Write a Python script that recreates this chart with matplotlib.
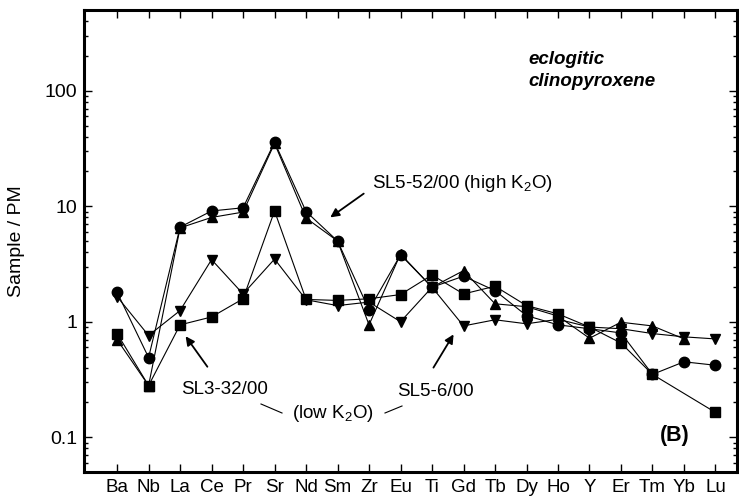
import numpy as np
import matplotlib
matplotlib.use('Agg')
import matplotlib.pyplot as plt
from matplotlib.ticker import LogLocator, NullFormatter

plt.rcParams['font.family'] = ['Liberation Sans', 'DejaVu Sans']
plt.rcParams['mathtext.fontset'] = 'custom'
plt.rcParams['mathtext.rm'] = 'Liberation Sans'

# elements (x axis)
elements = ['Ba', 'Nb', 'La', 'Ce', 'Pr', 'Sr', 'Nd', 'Sm', 'Zr', 'Eu', 'Ti',
            'Gd', 'Tb', 'Dy', 'Ho', 'Y', 'Er', 'Tm', 'Yb', 'Lu']

nan = np.nan
# SL5-52/00 (high K2O), two analyses
circle = [1.80, 0.49, 6.6, 9.1, 9.7, 35.9, 9.0, 5.0, 1.27, 3.8, 1.99,
          2.48, 1.86, 1.13, 0.94, 0.87, 0.80, 0.35, 0.45, 0.42]
up_tri = [0.70, 0.28, 6.5, 8.0, 8.9, 35.0, 7.9, 5.0, 0.94, 3.86, 1.99,
          2.77, 1.43, 1.35, 1.12, 0.72, 0.99, 0.92, 0.71, nan]
# SL5-6/00 (low K2O)
down_tri = [1.65, 0.76, 1.25, 3.45, 1.74, 3.49, 1.55, 1.38, 1.48, 1.0, 1.99,
            0.92, 1.04, 0.96, 1.05, 0.90, 0.87, 0.79, 0.74, 0.71]
# SL3-32/00 (low K2O)
square = [0.79, 0.28, 0.94, 1.10, 1.58, 9.1, 1.56, 1.53, 1.58, 1.72, 2.54,
          1.74, 2.03, 1.38, 1.17, 0.90, 0.655, 0.35, nan, 0.164]

fig = plt.figure(figsize=(7.39, 5.03), dpi=100)
ax = fig.add_axes([0.1137, 0.0616, 0.883, 0.9185])

x = np.arange(len(elements))
for vals, mk in [(square, 's'), (down_tri, 'v'), (up_tri, '^'), (circle, 'o')]:
    v = np.array(vals, dtype=float)
    ok = ~np.isnan(v)
    ax.plot(x[ok], v[ok], color='black', lw=0.8, marker=mk, markersize=7.5,
            markerfacecolor='black', markeredgecolor='black')

ax.set_yscale('log')
ax.set_ylim(0.05, 500)
ax.set_xlim(-1.05, 19.67)
ax.set_xticks(x)
ax.set_xticklabels(elements, fontsize=13.5)
ax.yaxis.set_minor_locator(LogLocator(base=10, subs=np.arange(2, 10), numticks=10))
ax.yaxis.set_minor_formatter(NullFormatter())
ax.set_yticks([0.1, 1, 10, 100])
ax.set_yticklabels(['0.1', '1', '10', '100'], fontsize=14)
ax.tick_params(which='both', direction='in', top=True, right=True, width=1)
ax.tick_params(which='major', length=6)
ax.tick_params(which='minor', length=3)
ax.tick_params(axis='x', pad=5)
ax.tick_params(axis='y', pad=5)
for s in ax.spines.values():
    s.set_linewidth(2.2)

ax.set_ylabel('Sample / PM', fontsize=14, labelpad=14)

# annotations in figure pixel coords
def px(xp, yp):
    return (xp / 739.0, 1 - yp / 503.0)

fig.text(*px(528, 60), 'eclogitic', fontsize=13.5, fontweight='bold',
         fontstyle='italic', va='center', ha='left')
fig.text(*px(528, 82), 'clinopyroxene', fontsize=13.5, fontweight='bold',
         fontstyle='italic', va='center', ha='left')
fig.text(*px(675, 436), '(B)', fontsize=15.5, fontweight='bold',
         ha='center', va='center')

fig.text(*px(372, 184), 'SL5-52/00 (high K$_2$O)', fontsize=13.5, va='center')
ax.annotate('', xy=px(328, 219), xycoords='figure fraction',
            xytext=px(366, 192), textcoords='figure fraction',
            arrowprops=dict(arrowstyle='-|>', color='black', lw=1.3,
                            mutation_scale=13))
fig.text(*px(181, 390), 'SL3-32/00', fontsize=13.5, va='center')
ax.annotate('', xy=px(184, 334), xycoords='figure fraction',
            xytext=px(209, 369), textcoords='figure fraction',
            arrowprops=dict(arrowstyle='-|>', color='black', lw=1.3,
                            mutation_scale=13))
fig.text(*px(397, 391), 'SL5-6/00', fontsize=13.5, va='center')
ax.annotate('', xy=px(455, 332), xycoords='figure fraction',
            xytext=px(432, 370), textcoords='figure fraction',
            arrowprops=dict(arrowstyle='-|>', color='black', lw=1.3,
                            mutation_scale=13))
fig.text(*px(292, 414), '(low K$_2$O)', fontsize=13.5, va='center')
fig.add_artist(plt.Line2D([261 / 739, 282 / 739], [1 - 404 / 503, 1 - 413 / 503],
                          color='black', lw=0.8))
fig.add_artist(plt.Line2D([385 / 739, 402 / 739], [1 - 413 / 503, 1 - 406 / 503],
                          color='black', lw=0.8))

fig.savefig('out.png', dpi=100)
